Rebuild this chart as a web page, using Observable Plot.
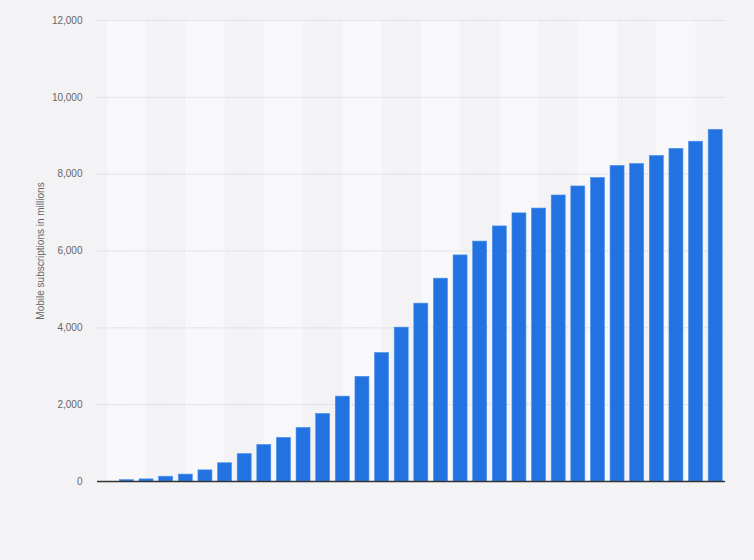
<!DOCTYPE html>
<html>
<head>
<meta charset="utf-8">
<script src="https://cdn.jsdelivr.net/npm/d3@7"></script>
<script src="https://cdn.jsdelivr.net/npm/@observablehq/plot@0.6"></script>
<style>
  html, body { margin: 0; padding: 0; background: #f3f2f5; }
  #chart { width: 754px; height: 560px; }
  svg { display: block; }
</style>
</head>
<body>
<div id="chart"></div>
<script>
const years = ["1993","1994","1995","1996","1997","1998","1999","2000","2001","2002","2003","2004","2005","2006","2007","2008","2009","2010","2011","2012","2013","2014","2015","2016","2017","2018","2019","2020","2021","2022","2023","2024"];
const subscriptions = [null,35,55,125,180,290,475,715,950,1135,1395,1760,2210,2725,3345,4005,4630,5280,5885,6245,6640,6980,7105,7445,7680,7900,8215,8265,8475,8660,8845,9155];
const yTicks = [0,2000,4000,6000,8000,10000,12000];
const yLabel = "Mobile subscriptions in millions";

const data = years.map((year, i) => ({year, value: subscriptions[i]})).filter(d => d.value != null);
const stripeYears = years.filter((y, i) => i % 4 === 1);

const W = 754, H = 560, mL = 97, mR = 29, mT = 20, mB = 79;
const pIn = 0.287, pOut = 0.1435;
const step = (W - mL - mR) / (years.length - pIn + 2 * pOut);
const bw = step * (1 - pIn);
const stripeInset = -(2 * step - bw) / 2;

const chart = Plot.plot({
  width: W, height: H,
  marginLeft: mL, marginRight: mR, marginTop: mT, marginBottom: mB,
  style: {background: "#f3f2f5", fontFamily: "'Liberation Sans', Arial, sans-serif"},
  x: {type: "band", domain: years, paddingInner: pIn, paddingOuter: pOut, round: false, axis: null},
  y: {domain: [0, 12000], ticks: yTicks},
  marks: [
    Plot.barY(stripeYears, {x: d => d, y1: 0, y2: 12000, fill: "#f8f7fa", insetLeft: stripeInset, insetRight: stripeInset}),
    Plot.gridY(yTicks.filter(t => t > 0), {stroke: "#c9c9cc", strokeOpacity: 1, strokeDasharray: "1,1.5", strokeWidth: 1}),
    Plot.axisY(yTicks, {tickSize: 0, tickPadding: 15, tickFormat: d3.format(","), fontSize: 10, fill: "#666", label: yLabel, labelAnchor: "center", labelArrow: false, labelOffset: 61}),
    Plot.barY(data, {x: "year", y: "value", fill: "#2273e1", stroke: "#4a90ea", strokeWidth: 0.6}),
    Plot.ruleY([0], {stroke: "#333", strokeWidth: 1.6})
  ]
});
document.getElementById("chart").appendChild(chart);
</script>
</body>
</html>
